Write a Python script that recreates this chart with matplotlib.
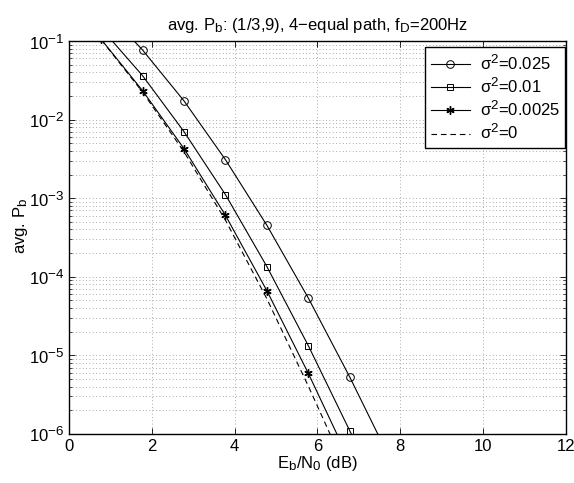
import matplotlib
matplotlib.use("Agg")
import matplotlib.pyplot as plt
import numpy as np
from matplotlib.ticker import LogLocator, NullFormatter, FixedLocator
try:
    import matplotlib._mathtext as _mt
    _mt.SHRINK_FACTOR = 0.8
except Exception:
    pass

plt.rcParams['font.family'] = ['Liberation Sans', 'DejaVu Sans']
plt.rcParams['mathtext.fontset'] = 'custom'
plt.rcParams['mathtext.rm'] = 'Liberation Sans'
plt.rcParams['mathtext.it'] = 'Liberation Sans'
plt.rcParams['mathtext.default'] = 'regular'

ebn0 = [0.78, 1.78, 2.78, 3.78, 4.78, 5.78, 6.78, 7.78]
pb_s025 = [2.8e-1, 7.68e-2, 1.73e-2, 3.09e-3, 4.52e-4, 5.37e-5, 5.31e-6, 4.5e-7]
pb_s01 = [1.45e-1, 3.62e-2, 7.02e-3, 1.11e-3, 1.35e-4, 1.33e-5, 1.10e-6, 9.0e-8]
pb_s0025 = [1.05e-1, 2.33e-2, 4.27e-3, 6.05e-4, 6.65e-5, 5.91e-6, 4.5e-7, 3.0e-8]
pb_s0 = [1.04e-1, 2.24e-2, 3.89e-3, 5.25e-4, 5.25e-5, 4.07e-6, 2.8e-7, 1.8e-8]
labels = [r'$\sigma^2$=0.025', r'$\sigma^2$=0.01', r'$\sigma^2$=0.0025', r'$\sigma^2$=0']

fig = plt.figure(figsize=(5.74, 4.83), dpi=100)
ax = fig.add_axes([0.120, 0.1015, 0.866, 0.8135])

ax.semilogy(ebn0, pb_s025, 'k-', marker='o', mfc='none', mec='k', ms=5.5, lw=0.8, mew=0.7, label=labels[0])
ax.semilogy(ebn0, pb_s01, 'k-', marker='s', mfc='none', mec='k', ms=4.8, lw=0.8, mew=0.7, label=labels[1])
ax.semilogy(ebn0, pb_s0025, 'k-', marker=(6, 2, 0), mfc='k', mec='k', ms=6, lw=0.8, mew=1.0, label=labels[2])
ax.semilogy(ebn0, pb_s0, 'k--', lw=0.8, dashes=(5, 3.5), label=labels[3])

ax.set_xlim(0, 12)
ax.set_ylim(1e-6, 1e-1)
ax.xaxis.set_major_locator(FixedLocator([0, 2, 4, 6, 8, 10, 12]))
ax.yaxis.set_major_locator(LogLocator(base=10, numticks=10))
ax.yaxis.set_minor_locator(LogLocator(base=10, subs=np.arange(2, 10), numticks=20))
ax.yaxis.set_minor_formatter(NullFormatter())

ax.grid(True, which='major', axis='both', color='#909090', linestyle=(0, (1, 3)), lw=0.6)
ax.grid(True, which='minor', axis='y', color='#909090', linestyle=(0, (1, 3)), lw=0.6)

ax.tick_params(which='both', direction='in', top=True, right=True, labelsize=12)
ax.tick_params(which='major', length=4, width=0.6)
ax.tick_params(which='minor', length=2, width=0.5)
for s in ax.spines.values():
    s.set_linewidth(1.0)

ax.set_title(r'avg. P$_b$: (1/3,9), 4$-$equal path, f$_D$=200Hz', fontsize=12, pad=8)
ax.set_xlabel(r'E$_b$/N$_0$ (dB)', fontsize=12, labelpad=0)
ax.set_ylabel(r'avg. P$_b$', fontsize=12)
ax.yaxis.set_label_coords(-0.078, 0.53)

leg = ax.legend(loc='upper right', bbox_to_anchor=(0.999, 0.985), fontsize=12, frameon=True,
                fancybox=False, edgecolor='k', framealpha=1, borderaxespad=0.0,
                handlelength=2.3, handletextpad=0.6, labelspacing=0.2, borderpad=0.35)
leg.get_frame().set_linewidth(1.0)

fig.savefig('out.png', dpi=100)
